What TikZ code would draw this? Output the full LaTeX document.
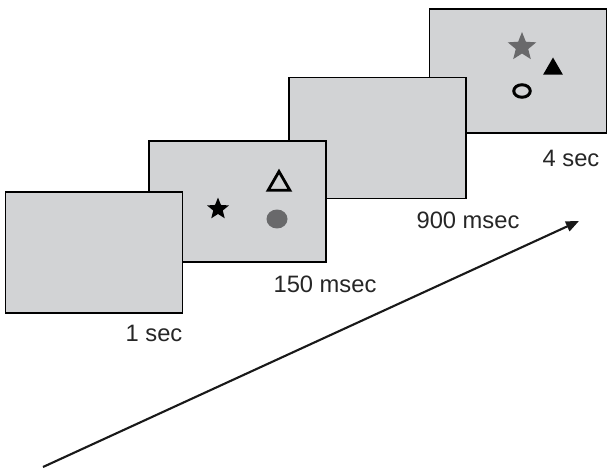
\documentclass[tikz,border=0pt]{standalone}
\usepackage{fontspec}
\setmainfont{Liberation Sans}
\usepackage{tikz}
\usetikzlibrary{arrows.meta,shapes,positioning}
\definecolor{screengray}{RGB}{210,211,213}
\definecolor{symgray}{RGB}{105,105,107}
\tikzset{
  screen/.style={draw=black,line width=.8pt,fill=screengray,minimum width=3.54cm,minimum height=2.42cm,inner sep=0pt},
  lbl/.style={font=\fontsize{13.5}{16}\selectfont,text=black!85,inner sep=0pt},
  starsym/.style={star,star points=5,star point ratio=2.3,inner sep=0pt},
  trisym/.style={regular polygon,regular polygon sides=3,inner sep=0pt}
}
\begin{document}
\begin{tikzpicture}[x=.02cm,y=-.02cm]
 \useasboundingbox (0,0) rectangle (608,469);
  %draw screens, last one first
    \node[screen,minimum height=2.48cm] (s4) at (518,71) {};
    \node[screen] (s3) at (377.5,138) {};
    \node[screen] (s2) at (237.5,201.5) {};
  %stimuli of the second screen
    \node[starsym,fill=black,minimum size=.46cm] (star2) at (218,209) {};
    \node[trisym,draw=black,line width=1.6pt,minimum size=.5cm] (tri2) at (279,184) {};
    \node[ellipse,fill=symgray,minimum width=.42cm,minimum height=.38cm,inner sep=0pt] (dot2) at (277,219) {};
  %stimuli of the last screen
    \node[starsym,fill=symgray,minimum size=.6cm] (star4) at (522,47) {};
    \node[trisym,fill=black,minimum size=.46cm] (tri4) at (553,69) {};
    \node[ellipse,draw=black,line width=1.7pt,minimum width=.33cm,minimum height=.25cm,inner sep=0pt] (ring4) at (522,91) {};
  %first screen on top
    \node[screen] (s1) at (94,252.5) {};
  %durations
    \node[lbl] (t1) at (154,333) {1 sec};
    \node[lbl] (t2) at (325,284) {150 msec};
    \node[lbl] (t3) at (468,220) {900 msec};
    \node[lbl] (t4) at (571,158) {4 sec};
  %time arrow
    \coordinate (a0) at (43,467);
    \coordinate (a1) at (579,221);
    \draw[line width=1.2pt,black!90,-{Triangle[length=.26cm,width=.21cm]}] (a0) -- (a1);
\end{tikzpicture}
\end{document}
